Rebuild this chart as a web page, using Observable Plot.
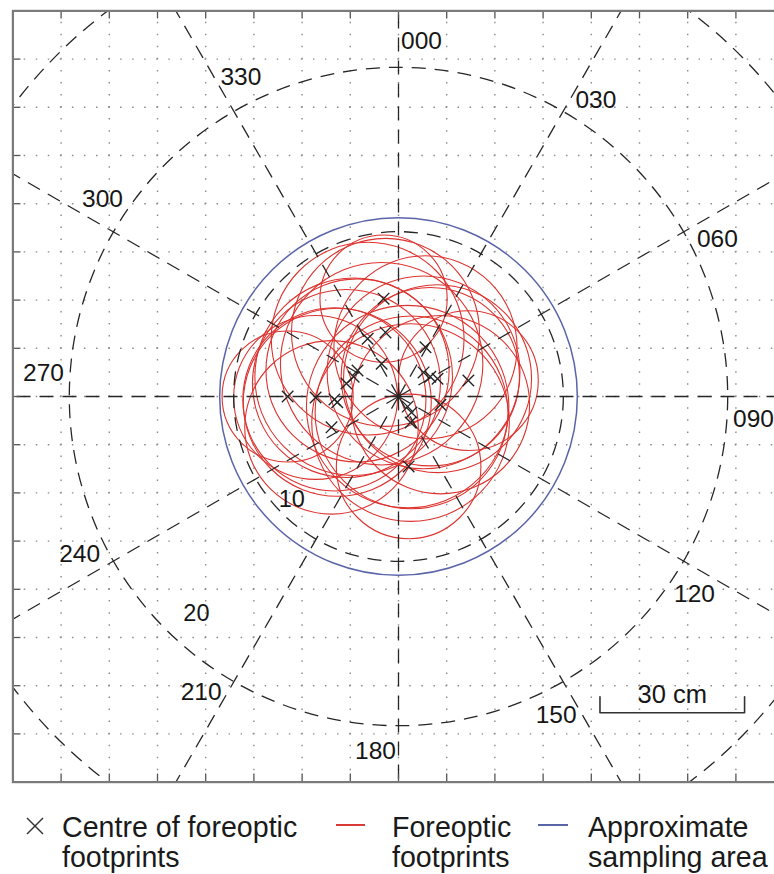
<!DOCTYPE html>
<html>
<head>
<meta charset="utf-8">
<script src="https://cdn.jsdelivr.net/npm/d3@7"></script>
<script src="https://cdn.jsdelivr.net/npm/@observablehq/plot@0.6"></script>
<style>
  html, body { margin: 0; padding: 0; background: #fff; }
  #wrap { position: relative; width: 774px; height: 874px; overflow: hidden; background: #fff;
          font-family: "Liberation Sans", Arial, Helvetica, sans-serif; color: #1a1a1a; }
  #chart { position: absolute; left: 0; top: 0; }
  .lg { position: absolute; font-size: 28.6px; line-height: 30px; white-space: nowrap; }
  .sw { position: absolute; height: 2px; }
</style>
</head>
<body>
<div id="wrap">
  <div id="chart"></div>
  <svg style="position:absolute;left:26px;top:817px" width="18" height="18">
    <line x1="1" y1="1" x2="17" y2="17" stroke="#333" stroke-width="1.5"/>
    <line x1="1" y1="17" x2="17" y2="1" stroke="#333" stroke-width="1.5"/>
  </svg>
  <div class="lg" style="left:62px;top:812px">Centre of foreoptic<br>footprints</div>
  <div class="sw" style="left:336px;top:824px;width:29px;background:#d83a36"></div>
  <div class="lg" style="left:392px;top:812px">Foreoptic<br>footprints</div>
  <div class="sw" style="left:538px;top:824px;width:30px;background:#5a64a8"></div>
  <div class="lg" style="left:588px;top:812px">Approximate<br>sampling area</div>
</div>
<script>
// ---------- data (cm, origin at sampling centre; north up) ----------
const gridValues = [-70, -60, -50, -40, -30, -20, -10, 0, 10, 20, 30, 40, 50, 60, 70];
const spokeAngles = [0, 30, 60, 90, 120, 150, 180, 210, 240, 270, 300, 330];
const spokeLabels = ["000", "030", "060", "090", "120", "150", "180", "210", "240", "270", "300", "330"];
const ringRadiusCm = [34.2, 68.3, 100.2];
const ringLabels = ["10", "20"];
const ringLabelAngle = [226, 223];
const samplingRadiusCm = 37.1;

const centreX = [-3.1, -2.7, -6.4, 5.6, -3.5, -9.3, -10.8, 5.2, 6.6, 8.1, 14.5, -23.0, -17.2, -13.3, -12.7, 1.9, 2.7, 8.7, 2.5, -13.9, 2.1, -8.5];
const centreY = [20.3, 13.3, 12.0, 10.2, 6.8, 4.1, 2.7, 5.0, 4.1, 3.7, 3.3, 0.0, -0.2, -0.6, -1.2, -2.1, -3.3, -1.7, -5.4, -6.4, -14.5, 5.4];
const footprintRadius = [13.2, 19.5, 20.0, 19.0, 21.0, 20.5, 19.5, 20.0, 18.5, 19.5, 14.5, 13.6, 17.0, 19.0, 19.5, 21.0, 20.0, 18.5, 20.5, 18.0, 15.0, 19.0];

const scaleBarLengthCm = 30;
const scaleBarOrigin = {x: 41.8, y: -65.6};
const scaleBarLabel = "30 cm";

// ---------- layout ----------
const W = 796, H = 795;
const mTop = 10.4, mRight = 12.4, mBottom = 13.4, mLeft = 12.4;
const extent = 80;
const ppc = (W - mLeft - mRight) / (2 * extent); // px per cm
const rad = (deg) => deg * Math.PI / 180;
const spokeLen = 130;
const labelR = 73.8, labelOff = 3.7;
const tickPx = 8;
const dash = "14,9";
const ink = "#262626";

const footprints = centreX.map((x, i) => ({x, y: centreY[i], r: footprintRadius[i]}));
const rings = ringRadiusCm.map(r => ({r}));
const barPts = [
  {x: scaleBarOrigin.x, y: scaleBarOrigin.y + 16 / ppc},
  {x: scaleBarOrigin.x, y: scaleBarOrigin.y},
  {x: scaleBarOrigin.x + scaleBarLengthCm, y: scaleBarOrigin.y},
  {x: scaleBarOrigin.x + scaleBarLengthCm, y: scaleBarOrigin.y + 16 / ppc}
];

const chart = Plot.plot({
  width: W, height: H,
  marginTop: mTop, marginRight: mRight, marginBottom: mBottom, marginLeft: mLeft,
  x: {domain: [-extent, extent], axis: null},
  y: {domain: [-extent, extent], axis: null},
  r: {type: "identity"},
  style: {fontFamily: "'Liberation Sans', Arial, Helvetica, sans-serif", background: "white", maxWidth: "none", overflow: "hidden"},
  marks: [
    // dotted grid
    Plot.ruleX(gridValues, {x: d => d, y1: extent, y2: -extent, stroke: "#8c8c8c", strokeWidth: 1.4, strokeDasharray: `1.5,${(2.5 * ppc - 1.5).toFixed(2)}`, strokeDashoffset: 0.75}),
    Plot.ruleY(gridValues, {y: d => d, x1: -extent, x2: extent, stroke: "#8c8c8c", strokeWidth: 1.4, strokeDasharray: `1.5,${(2.5 * ppc - 1.5).toFixed(2)}`, strokeDashoffset: 0.75}),
    // foreoptic footprints
    Plot.dot(footprints, {x: "x", y: "y", r: d => d.r * ppc, stroke: "#dc3430", strokeWidth: 1.1, fill: "none"}),
    // spokes and rings
    Plot.link(spokeAngles, {x1: () => 0, y1: () => 0, x2: a => spokeLen * Math.sin(rad(a)), y2: a => spokeLen * Math.cos(rad(a)), stroke: ink, strokeWidth: 1.3, strokeDasharray: dash, clip: true}),
    Plot.dot(rings, {x: () => 0, y: () => 0, r: d => d.r * ppc, stroke: ink, strokeWidth: 1.3, strokeDasharray: dash, fill: "none", clip: true}),
    // sampling area
    Plot.dot([samplingRadiusCm], {x: () => 0, y: () => 0, r: d => d * ppc, stroke: "#5a64a8", strokeWidth: 1.5, fill: "none"}),
    // centres
    Plot.dot(footprints, {x: "x", y: "y", symbol: "times", r: 5.3, stroke: "#222", strokeWidth: 1.35}),
    // labels
    Plot.text(spokeAngles, {x: a => labelR * Math.sin(rad(a + labelOff)), y: a => labelR * Math.cos(rad(a + labelOff)), text: (a, i) => spokeLabels[i], fontSize: 24.5, fill: "#161616"}),
    Plot.text(ringLabels, {x: (d, i) => 0.9 * ringRadiusCm[i] * Math.sin(rad(ringLabelAngle[i])), y: (d, i) => 0.9 * ringRadiusCm[i] * Math.cos(rad(ringLabelAngle[i])), text: d => d, fontSize: 23.5, fill: "#161616"}),
    // scale bar
    Plot.line(barPts, {x: "x", y: "y", stroke: "#333", strokeWidth: 1.6}),
    Plot.text([scaleBarLabel], {x: () => scaleBarOrigin.x + scaleBarLengthCm / 2, y: () => scaleBarOrigin.y + 10 / ppc, text: d => d, lineAnchor: "bottom", fontSize: 25.5, fill: "#161616"}),
    // frame ticks
    Plot.ruleX(gridValues, {x: d => d, y1: extent, y2: extent - tickPx / ppc, stroke: "#555", strokeWidth: 1.3}),
    Plot.ruleX(gridValues, {x: d => d, y1: -extent, y2: -extent + tickPx / ppc, stroke: "#555", strokeWidth: 1.3}),
    Plot.ruleY(gridValues, {y: d => d, x1: -extent, x2: -extent + tickPx / ppc, stroke: "#555", strokeWidth: 1.3}),
    Plot.ruleY(gridValues, {y: d => d, x1: extent, x2: extent - tickPx / ppc, stroke: "#555", strokeWidth: 1.3}),
    Plot.frame({stroke: "#7a7a7a", strokeWidth: 2.2})
  ]
});
document.getElementById("chart").appendChild(chart);
</script>
</body>
</html>
